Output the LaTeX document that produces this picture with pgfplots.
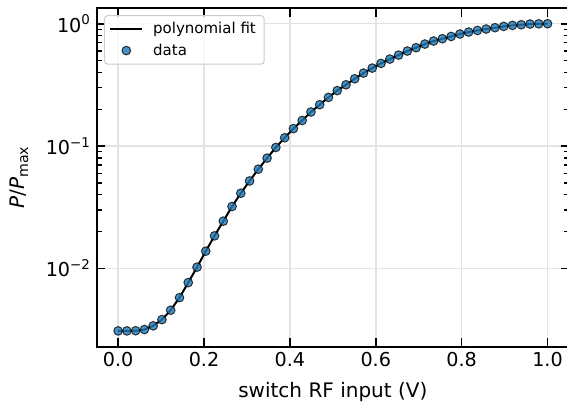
\documentclass[border=0pt]{standalone}
\usepackage{fontspec}
\setmainfont{DejaVu Sans}
\usepackage{pgfplots}
\usepackage{pgfplotstable}
\pgfplotsset{compat=1.18}
\definecolor{mplblue}{HTML}{1F77B4}
\definecolor{gridgray}{HTML}{E3E3E3}
\pgfplotsset{
  linelegend/.style={legend image code/.code={\draw[##1] (0pt,0pt) -- (19pt,0pt); \path (0pt,0pt) (23pt,0pt);}},
  marklegend/.style={legend image code/.code={\draw[mark repeat=2,mark phase=2,##1] plot coordinates {(0pt,0pt)(9.5pt,0pt)(19pt,0pt)}; \path (0pt,0pt) (23pt,0pt);}},
}
\pgfplotstableread{
x y
0.0000 0.00309
0.0204 0.00309
0.0408 0.00310
0.0612 0.00317
0.0816 0.00340
0.1020 0.00382
0.1224 0.00456
0.1429 0.00578
0.1633 0.00767
0.1837 0.01025
0.2041 0.01385
0.2245 0.01848
0.2449 0.02437
0.2653 0.0321
0.2857 0.0412
0.3061 0.0519
0.3265 0.0648
0.3469 0.0798
0.3673 0.0975
0.3878 0.117
0.4082 0.139
0.4286 0.162
0.4490 0.190
0.4694 0.218
0.4898 0.250
0.5102 0.284
0.5306 0.317
0.5510 0.355
0.5714 0.395
0.5918 0.434
0.6122 0.474
0.6327 0.514
0.6531 0.554
0.6735 0.598
0.6939 0.637
0.7143 0.682
0.7347 0.722
0.7551 0.754
0.7755 0.787
0.7959 0.824
0.8163 0.855
0.8367 0.881
0.8571 0.905
0.8776 0.928
0.8980 0.951
0.9184 0.969
0.9388 0.981
0.9592 0.994
0.9796 0.998
1.0000 1.0
}\datatable
\begin{document}
\begin{tikzpicture}
\path[use as bounding box] (-58.0pt,-35.0pt) rectangle (282.2pt,208.0pt);
\begin{axis}[
  at={(0pt,0pt)}, anchor=south west,
  scale only axis, width=283.4pt, height=203.0pt,
  ymode=log,
  xmin=-0.05, xmax=1.05,
  ymin=0.002297, ymax=1.336,
  xtick={0,0.2,0.4,0.6,0.8,1.0},
  xticklabels={0.0,0.2,0.4,0.6,0.8,1.0},
  ytick={0.01,0.1,1},
  yticklabels={10\textsuperscript{−2},10\textsuperscript{−1},10\textsuperscript{0}},
  minor x tick num=0,
  tick align=inside,
  xtick pos=both, ytick pos=both,
  major tick length=5pt, minor tick length=3pt,
  every major tick/.append style={line width=1.0pt, black},
  every minor tick/.append style={line width=0.8pt, black},
  axis line style={line width=1.1pt, black},
  grid=major,
  major grid style={gridgray, line width=0.9pt},
  tick label style={font=\fontsize{11.5}{14}\selectfont, /pgf/number format/assume math mode=true},
  every axis x label/.style={at={(axis description cs:0.5,-0.133)}, anchor=center},
  every axis y label/.style={at={(axis description cs:-0.1645,0.5)}, rotate=90, anchor=center},
  label style={font=\fontsize{12}{14}\selectfont},
  xlabel={switch RF input (V)},
  ylabel={\textit{P}/\textit{P}\raisebox{-0.35ex}{\fontsize{8.5}{10}\selectfont max}},
  legend style={at={(axis description cs:0.0155,0.98)}, anchor=north west,
    draw=black!20, line width=0.6pt, rounded corners=2pt, fill=white, fill opacity=0.8, text opacity=1,
    font=\fontsize{9}{11}\selectfont, inner xsep=3pt, inner ysep=2pt, row sep=0.5pt},
  legend cell align=left,
]
\addplot[black, line width=1.2pt, no marks, linelegend] table[x=x,y=y] {\datatable};
\addlegendentry{polynomial fit}
\addplot[only marks, mark=*, mark size=2.6pt,
  mark options={fill=mplblue, fill opacity=0.8, draw=black, draw opacity=0.75, line width=0.6pt},
  marklegend]
  table[x=x,y=y] {\datatable};
\addlegendentry{data}
\end{axis}
\end{tikzpicture}
\end{document}
